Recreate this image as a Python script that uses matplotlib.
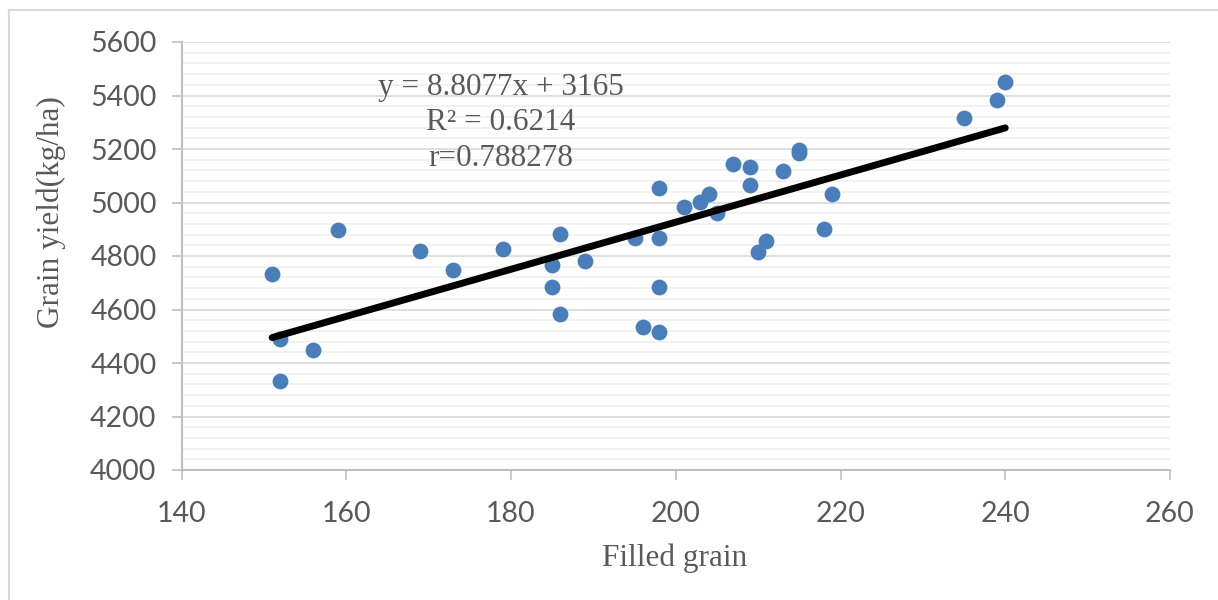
import numpy as np
import matplotlib as mpl
mpl.use('Agg')
import matplotlib.pyplot as plt
from matplotlib.lines import Line2D
from matplotlib.ticker import MultipleLocator


# Filled grain vs grain yield
filled_grain = [151, 152, 152, 156, 159, 169, 173, 179, 185, 185,
                186, 186, 189, 195, 196, 198, 198, 198, 198, 201,
                203, 204, 205, 207, 209, 209, 210, 211, 213, 215,
                215, 218, 219, 235, 239, 240]
grain_yield = [4733, 4490, 4333, 4449, 4897, 4819, 4748, 4826, 4766, 4684,
               4882, 4583, 4781, 4867, 4535, 5054, 4867, 4684, 4516, 4983,
               5002, 5032, 4961, 5144, 5133, 5065, 4815, 4856, 5118, 5196,
               5185, 4901, 5032, 5316, 5383, 5450]

# trendline as given on the chart
slope, intercept = 8.8077, 3165
eq_lines = ['y = 8.8077x + 3165', 'R\u00b2 = 0.6214', 'r=0.788278']

x_ticks = [140, 160, 180, 200, 220, 240, 260]
y_ticks = [4000, 4200, 4400, 4600, 4800, 5000, 5200, 5400, 5600]

W, H = 1218, 600
fg = plt.figure(figsize=(W / 100, H / 100), dpi=100)

# axes placed in pixels
l, r, t, b = 181.5, 1170, 42, 470
ax = fg.add_axes([l / W, 1 - b / H, (r - l) / W, (b - t) / H])

# chart area border (only left and top edges visible)
fg.add_artist(Line2D([8.5 / W, 8.5 / W], [0, 1 - 9.5 / H], transform=fg.transFigure,
                     color='#d9d9d9', lw=1.5))
fg.add_artist(Line2D([8.5 / W, 1], [1 - 9.5 / H, 1 - 9.5 / H], transform=fg.transFigure,
                     color='#d9d9d9', lw=1.5))

# grid
ax.set_axisbelow(True)
ax.yaxis.set_minor_locator(MultipleLocator(40))
ax.grid(axis='y', which='major', color='#d9d9d9', lw=1.2)
ax.grid(axis='y', which='minor', color='#f0f0f0', lw=1.2)

# data and trendline
ax.scatter(filled_grain, grain_yield, s=130, color='#4a7ebb', zorder=3, linewidths=0)
xf = np.array([min(filled_grain), max(filled_grain)])
ax.plot(xf, slope * xf + intercept, color='black', lw=5, solid_capstyle='round', zorder=4)

ax.set_xlim(140, 260)
ax.set_ylim(4000, 5600)
ax.set_xticks(x_ticks)
ax.set_yticks(y_ticks)

for s in ['top', 'right']:
  ax.spines[s].set_visible(False)
for s in ['left', 'bottom']:
  ax.spines[s].set_color('#bfbfbf')
  ax.spines[s].set_linewidth(1.5)

ax.tick_params(which='major', direction='out', length=7, width=1.2, color='#bfbfbf',
               labelsize=20.5, labelcolor='#595959')
ax.tick_params(axis='x', pad=15)
ax.tick_params(axis='y', pad=11)
ax.tick_params(which='minor', length=0)
for lab in ax.get_xticklabels() + ax.get_yticklabels():
  lab.set_family('Lato')

# axis titles
fg.text(51 / W, 1 - 212 / H, 'Grain yield(kg/ha)', rotation=90, ha='center', va='center',
        family='Liberation Serif', fontsize=22.5, color='#595959')
fg.text(675 / W, 1 - 558 / H, 'Filled grain', ha='center', va='center',
        family='Liberation Serif', fontsize=22.5, color='#595959')

# equation box
for i, s in enumerate(eq_lines):
  fg.text(501 / W, 1 - (87 + 36 * i) / H, s, ha='center', va='center',
          family='Liberation Serif', fontsize=22.5, color='#595959')

fg.savefig('out.png', dpi=100)
